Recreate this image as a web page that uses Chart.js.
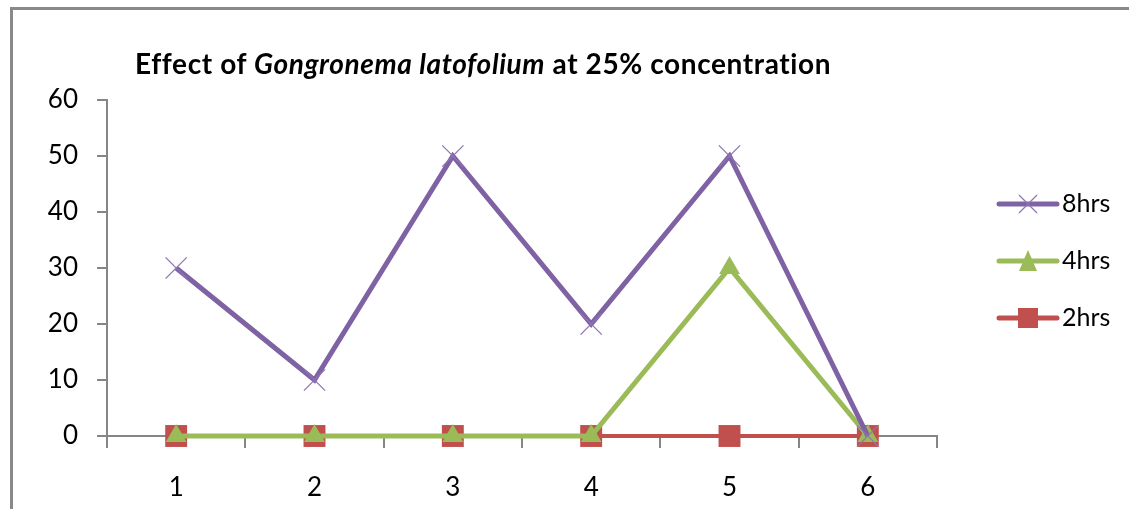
<!DOCTYPE html>
<html>
<head>
<meta charset="utf-8">
<script src="https://cdn.jsdelivr.net/npm/chart.js@4.4.0/dist/chart.umd.min.js"></script>
<style>
  html, body { margin: 0; padding: 0; background: #fff; overflow: hidden; }
  #wrap { position: relative; width: 1129px; height: 509px; overflow: hidden; }
  #frame { position: absolute; left: 10px; top: 7px; width: 1400px; height: 800px; border-left: 3px solid #898989; border-top: 3px solid #898989; }
  #title { position: absolute; left: 135px; top: 46px; font-family: Lato, "Open Sans", sans-serif; font-weight: bold; font-size: 28px; letter-spacing: 0.6px; line-height: 34px; color: #000; white-space: nowrap; }
  #myChart { position: absolute; left: 0; top: 0; }
</style>
</head>
<body>
<div id="wrap">
  <div id="frame"></div>
  <canvas id="myChart" width="1129" height="509"></canvas>
  <div id="title">Effect of <i>Gongronema latofolium</i> at 25% concentration</div>
</div>
<script>
var categories = ["1", "2", "3", "4", "5", "6"];
var hrs8 = [30, 10, 50, 20, 50, 0];
var hrs4 = [0, 0, 0, 0, 30, 0];
var hrs2 = [0, 0, 0, 0, 0, 0];
var seriesNames = ["8hrs", "4hrs", "2hrs"];

var tickFont = { family: "Lato, sans-serif", size: 26 };
var axisGray = "#868686";

// legend drawn by hand: line with marker, text to the right
var sideLegend = {
  id: "sideLegend",
  afterDraw: function (chart) {
    var ctx = chart.ctx;
    ctx.save();
    chart.data.datasets.forEach(function (ds, i) {
      var y = 204 + i * 57;
      ctx.strokeStyle = ds.borderColor;
      ctx.lineWidth = 5;
      ctx.lineCap = "round";
      ctx.beginPath();
      ctx.moveTo(999, y);
      ctx.lineTo(1057, y);
      ctx.stroke();
      ctx.lineCap = "butt";
      var cx = 1028;
      if (ds.pointStyle === "crossRot") {
        ctx.strokeStyle = ds.pointBorderColor;
        ctx.lineWidth = 1.2;
        ctx.beginPath();
        ctx.moveTo(cx - 9, y - 9); ctx.lineTo(cx + 9, y + 9);
        ctx.moveTo(cx - 9, y + 9); ctx.lineTo(cx + 9, y - 9);
        ctx.stroke();
      } else if (ds.pointStyle === "triangle") {
        ctx.fillStyle = ds.pointBackgroundColor;
        ctx.beginPath();
        ctx.moveTo(cx, y - 11);
        ctx.lineTo(cx + 9, y + 10);
        ctx.lineTo(cx - 9, y + 10);
        ctx.closePath();
        ctx.fill();
      } else {
        ctx.fillStyle = ds.pointBackgroundColor;
        ctx.fillRect(cx - 10, y - 10, 20, 20);
      }
      ctx.fillStyle = "#000";
      ctx.font = "25px " + tickFont.family;
      ctx.textBaseline = "middle";
      ctx.textAlign = "left";
      ctx.fillText(ds.label, 1062, y);
    });
    ctx.restore();
  },
};

var ctx = document.getElementById("myChart").getContext("2d");

var myChart = new Chart(ctx, {
  type: "line",
  data: {
    labels: categories,
    datasets: [
      {
        label: seriesNames[0],
        data: hrs8,
        borderColor: "#7F62A4",
        borderWidth: 5,
        pointStyle: "crossRot",
        pointRadius: 15,
        pointBorderWidth: 1.3,
        pointBorderColor: "#8E75B2",
        pointBackgroundColor: "#8E75B2",
        tension: 0,
      },
      {
        label: seriesNames[1],
        data: hrs4,
        borderColor: "#9BBB59",
        borderWidth: 5,
        pointStyle: "triangle",
        pointRadius: 12,
        pointBorderWidth: 0,
        pointBackgroundColor: "#9BBB59",
        tension: 0,
      },
      {
        label: seriesNames[2],
        data: hrs2,
        borderColor: "#C0504D",
        borderWidth: 4,
        pointStyle: "rect",
        pointRadius: 15.5,
        pointBorderWidth: 0,
        pointBackgroundColor: "#C0504D",
        tension: 0,
      },
    ],
  },
  options: {
    responsive: false,
    animation: false,
    clip: false,
    layout: {
      padding: { top: 100, right: 192, left: 0, bottom: 0 },
    },
    plugins: {
      legend: { display: false },
      title: { display: false },
      tooltip: { enabled: false },
    },
    scales: {
      y: {
        min: 0,
        max: 60,
        afterFit: function (s) { s.width = 107; },
        border: { display: true, color: axisGray, width: 2 },
        grid: { drawOnChartArea: false, drawTicks: true, tickLength: 10, color: axisGray, lineWidth: 2 },
        ticks: { stepSize: 10, padding: 19, color: "#000", font: tickFont },
      },
      x: {
        offset: true,
        afterFit: function (s) { s.height = 73; },
        border: { display: true, color: axisGray, width: 2 },
        grid: { offset: true, drawOnChartArea: false, drawTicks: true, tickLength: 12, color: axisGray, lineWidth: 2 },
        ticks: { padding: 24, color: "#000", font: tickFont, maxRotation: 0 },
      },
    },
  },
  plugins: [sideLegend],
});
</script>
</body>
</html>
